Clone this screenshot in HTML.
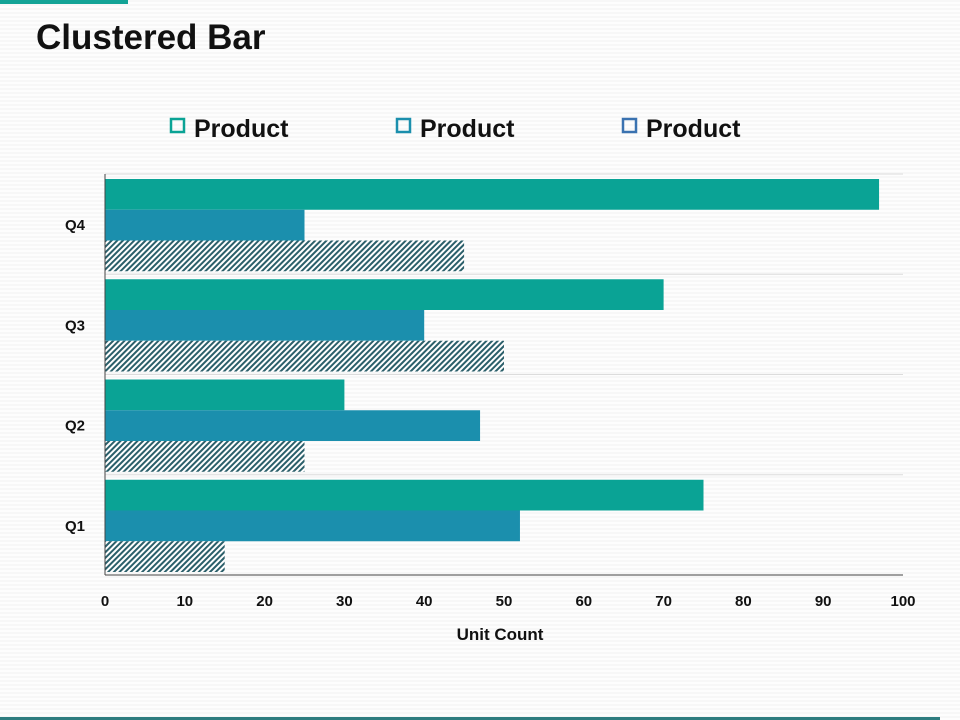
<!DOCTYPE html>
<html><head><meta charset="utf-8"><style>
body{margin:0;width:960px;height:720px;overflow:hidden;background:repeating-linear-gradient(#f7f7f7 0 2px,#fdfdfd 2px 4px);font-family:"Liberation Sans",sans-serif;position:relative}
</style></head><body>
<div style="position:absolute;left:0;top:0;width:128px;height:4px;background:#13a396"></div>
<div style="position:absolute;left:36px;top:18px;font-size:35px;font-weight:bold;color:#111">Clustered Bar</div>
<div style="position:absolute;left:0;top:717px;width:940px;height:3px;background:#2f7d80"></div>
<svg id="chart" width="960" height="720" style="position:absolute;left:0;top:0">
<defs><pattern id="hatch" width="4" height="4" patternUnits="userSpaceOnUse" patternTransform="rotate(45)"><rect width="4" height="4" fill="#fff"/><rect width="2" height="4" fill="#2b5f6a"/></pattern></defs>
</svg>
<script>
const categories=["Q1","Q2","Q3","Q4"];
const seriesA=[75,30,70,97];
const seriesB=[52,47,40,25];
const seriesC=[15,25,50,45];
const xTicks=[0,10,20,30,40,50,60,70,80,90,100];
const legendLabels=["Product","Product","Product"];
const NS="http://www.w3.org/2000/svg";
const svg=document.getElementById('chart');
const X0=105,X1=903,Y0=174,Y1=575;
const xs=v=>X0+(v-0)/(100-0)*(X1-X0);
const band=(Y1-Y0)/categories.length;
function mk(t,a){const e=document.createElementNS(NS,t);for(const k in a)e.setAttribute(k,a[k]);svg.appendChild(e);return e;}
// gridlines
for(let i=0;i<categories.length;i++){
 const g=mk('line',{x1:X0,x2:X1,y1:Y0+i*band,y2:Y0+i*band,stroke:'#dcdcdc','stroke-width':1});
 
 
}
const series=[[seriesA,'#0aa395'],[seriesB,'#1b8fad'],[seriesC,'url(#hatch)']];
const barH=(band-8)/3;
categories.forEach((c,i)=>{
 const top=Y1-(i+1)*band+5;
 series.forEach((s,j)=>{
  const r=mk('rect',{x:X0,y:top+j*barH,width:xs(s[0][i])-X0,height:barH,fill:s[1]});
  
  
 });
 const t=mk('text',{x:75,y:top+band/2+1,'text-anchor':'middle','font-size':15,'font-weight':'bold',fill:'#111'});
 t.textContent=c;
 
 
});
const ax=mk('line',{x1:X0,x2:X0,y1:Y0,y2:Y1,stroke:'#444','stroke-width':1});


const bx=mk('line',{x1:X0,x2:X1,y1:Y1,y2:Y1,stroke:'#444','stroke-width':1});


xTicks.forEach(v=>{
 const t=mk('text',{x:xs(v),y:606,'text-anchor':'middle','font-size':15,'font-weight':'bold',fill:'#111'});
 t.textContent=v;
 
 
});
const xt=mk('text',{x:500,y:640,'text-anchor':'middle','font-size':17,'font-weight':'bold',fill:'#111'});
xt.textContent='Unit Count';


const legCols=['#0aa395','#1b8fad','#3a72b0'];
legendLabels.forEach((l,i)=>{
 const x=170+i*226;
 const b=mk('rect',{x:x+1,y:119,width:13,height:13,fill:'none',stroke:legCols[i],'stroke-width':2.5});
 
 
 const t=mk('text',{x:x+24,y:137,'font-size':25,'font-weight':'bold',fill:'#111'});
 t.textContent=l;
 
 
});
</script>
</body></html>
